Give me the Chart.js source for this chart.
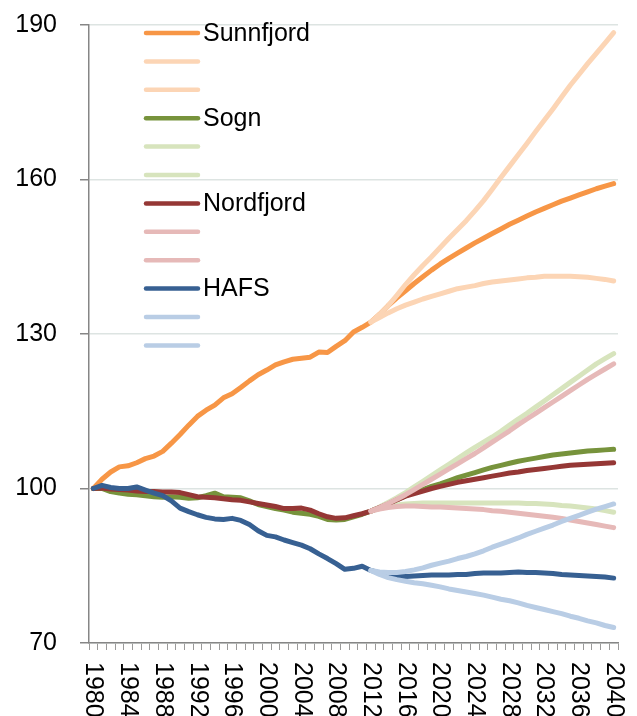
<!DOCTYPE html>
<html>
<head>
<meta charset="utf-8">
<script src="https://cdn.jsdelivr.net/npm/chart.js@4/dist/chart.umd.min.js"></script>
<style>
  body { margin: 0; background: #fff; }
  #wrap { width: 637px; height: 716px; }
</style>
</head>
<body>
<div id="wrap"><canvas id="chart" width="637" height="716"></canvas></div>
<script>
const years = [1980,1981,1982,1983,1984,1985,1986,1987,1988,1989,1990,1991,1992,1993,1994,1995,1996,1997,1998,1999,
  2000,2001,2002,2003,2004,2005,2006,2007,2008,2009,2010,2011,2012,2013,2014,2015,2016,2017,2018,2019,
  2020,2021,2022,2023,2024,2025,2026,2027,2028,2029,2030,2031,2032,2033,2034,2035,2036,2037,2038,2039,2040];

// main series 1980-2040 (history + main projection)
const sunnfjord = [100,101.8,103.2,104.2,104.4,105.0,105.8,106.3,107.2,108.8,110.5,112.3,114.0,115.2,116.2,117.6,118.4,119.6,120.9,122.1,
  123.0,124.0,124.6,125.1,125.3,125.5,126.5,126.4,127.6,128.7,130.4,131.3,132.3,
  133.8,135.5,137.0,138.4,139.8,141.1,142.4,143.6,144.7,145.7,146.7,147.7,148.6,149.5,150.4,151.3,152.1,152.9,153.7,154.4,155.1,155.8,156.4,157.0,157.6,158.2,158.7,159.2];
const sogn = [100,100.0,99.4,99.1,98.9,98.8,98.6,98.4,98.3,98.4,98.3,98.1,98.2,98.6,99.1,98.4,98.3,98.2,97.6,96.9,
  96.5,96.1,95.8,95.4,95.2,95.0,94.6,94.0,93.9,94.0,94.5,95.0,95.6,
  96.3,97.0,97.8,98.6,99.2,99.8,100.4,100.9,101.5,102.1,102.6,103.1,103.6,104.1,104.5,104.9,105.3,105.6,105.9,106.2,106.5,106.7,106.9,107.1,107.3,107.4,107.5,107.6];
const nordfjord = [100,100.1,99.9,99.8,99.7,99.5,99.4,99.4,99.3,99.3,99.2,98.8,98.4,98.3,98.2,98.0,97.8,97.7,97.4,97.1,
  96.8,96.5,96.1,96.1,96.2,95.8,95.1,94.5,94.2,94.3,94.7,95.1,95.6,
  96.3,97.0,97.8,98.5,99.0,99.5,100.0,100.4,100.8,101.2,101.5,101.8,102.1,102.4,102.7,103.0,103.2,103.5,103.7,103.9,104.1,104.3,104.5,104.6,104.7,104.8,104.9,105.0];
const hafs = [100,100.6,100.2,100.0,100.0,100.3,99.7,99.1,98.6,97.6,96.2,95.5,94.9,94.4,94.1,94.0,94.2,93.8,93.0,91.8,
  90.9,90.6,90.0,89.5,89.0,88.3,87.3,86.4,85.4,84.3,84.5,84.9,84.1,
  83.6,83.2,82.9,82.9,83.0,83.1,83.2,83.2,83.2,83.3,83.3,83.5,83.6,83.6,83.6,83.7,83.8,83.7,83.7,83.6,83.5,83.3,83.2,83.1,83.0,82.9,82.8,82.6];

// alternative projections 2012-2040
const sunnfjordHigh = [132.3,133.8,135.5,137.5,139.6,141.5,143.3,145.0,146.8,148.6,150.3,152.0,153.9,155.9,158.1,160.4,162.6,164.8,167.0,169.3,171.5,173.7,176.0,178.3,180.4,182.5,184.5,186.5,188.5];
const sunnfjordLow = [132.3,133.2,134.1,134.9,135.6,136.2,136.8,137.3,137.8,138.3,138.8,139.1,139.4,139.8,140.1,140.3,140.5,140.7,140.9,141.0,141.2,141.2,141.2,141.2,141.1,141.0,140.8,140.6,140.3];
const sognHigh = [95.6,96.4,97.3,98.2,99.2,100.3,101.4,102.5,103.6,104.7,105.8,106.9,108.0,109.0,110.0,111.1,112.3,113.5,114.6,115.8,117.0,118.2,119.4,120.6,121.8,123.0,124.2,125.2,126.2];
const sognLow = [95.6,96.1,96.5,96.8,97.0,97.1,97.2,97.2,97.2,97.2,97.2,97.2,97.2,97.2,97.2,97.2,97.2,97.2,97.1,97.1,97.0,96.9,96.7,96.6,96.4,96.2,96.0,95.7,95.4];
const nordfjordHigh = [95.6,96.3,97.1,97.9,98.8,99.8,100.8,101.8,102.8,103.8,104.8,105.8,106.8,107.9,109.0,110.1,111.2,112.4,113.5,114.6,115.7,116.8,117.9,119.0,120.1,121.2,122.2,123.2,124.2];
const nordfjordLow = [95.6,96.0,96.3,96.5,96.6,96.6,96.5,96.4,96.4,96.3,96.2,96.1,96.0,95.9,95.7,95.6,95.4,95.2,95.0,94.8,94.6,94.4,94.2,93.9,93.6,93.3,93.0,92.7,92.4];
const hafsHigh = [84.1,83.8,83.7,83.7,83.9,84.2,84.6,85.1,85.5,85.9,86.4,86.8,87.3,87.9,88.6,89.2,89.8,90.4,91.1,91.7,92.3,92.9,93.6,94.2,94.8,95.4,96.0,96.5,97.0];
const hafsLow = [84.1,83.3,82.7,82.3,82.0,81.7,81.5,81.2,80.9,80.5,80.2,79.9,79.6,79.3,78.9,78.5,78.2,77.8,77.3,76.9,76.5,76.1,75.7,75.2,74.8,74.3,73.9,73.4,73.0];

const yTicks = [70, 100, 130, 160, 190];

const FONT = "'Liberation Sans', Arial, sans-serif";
const AXIS = '#868686';

// pad projections (start 2012) with nulls for the history years
const fromStart = arr => Array(years.length - arr.length).fill(null).concat(arr);

function line(label, data, color) {
  return {
    label: label,
    data: data,
    borderColor: color,
    backgroundColor: color,
    borderWidth: 5,
    pointRadius: 0,
    tension: 0,
    borderCapStyle: 'round',
    borderJoinStyle: 'round',
    spanGaps: false
  };
}

const datasets = [
  line('Sunnfjord', sunnfjord, '#F79646'),
  line('', fromStart(sunnfjordHigh), '#FCD5B5'),
  line('', fromStart(sunnfjordLow), '#FCD5B5'),
  line('Sogn', sogn, '#77933C'),
  line('', fromStart(sognHigh), '#D7E4BD'),
  line('', fromStart(sognLow), '#D7E4BD'),
  line('Nordfjord', nordfjord, '#953735'),
  line('', fromStart(nordfjordHigh), '#E6B9B8'),
  line('', fromStart(nordfjordLow), '#E6B9B8'),
  line('HAFS', hafs, '#376092'),
  line('', fromStart(hafsHigh), '#B9CDE5'),
  line('', fromStart(hafsLow), '#B9CDE5')
];
// later series drawn on top, like the original
datasets.forEach((d, i) => d.order = datasets.length - i);

const legendInside = {
  id: 'legendInside',
  afterDraw(chart) {
    const ctx = chart.ctx;
    ctx.save();
    ctx.font = '25px ' + FONT;
    ctx.textBaseline = 'middle';
    ctx.textAlign = 'left';
    chart.data.datasets.forEach((d, i) => {
      const y = 33 + i * 28.4;
      ctx.strokeStyle = d.borderColor;
      ctx.lineWidth = 4.5;
      ctx.lineCap = 'round';
      ctx.beginPath();
      ctx.moveTo(146, y);
      ctx.lineTo(198, y);
      ctx.stroke();
      if (d.label) {
        ctx.fillStyle = '#000';
        ctx.fillText(d.label, 203, y + 1);
      }
    });
    ctx.restore();
  }
};

const rotatedYears = {
  id: 'rotatedYears',
  afterDraw(chart) {
    const ctx = chart.ctx;
    const xs = chart.scales.x;
    ctx.save();
    ctx.font = '25px ' + FONT;
    ctx.fillStyle = '#000';
    ctx.textAlign = 'left';
    ctx.textBaseline = 'middle';
    years.forEach((yr, i) => {
      if (yr % 4 !== 0) return;
      const x = xs.getPixelForValue(i);
      ctx.save();
      ctx.translate(x, xs.top + 19);
      ctx.rotate(Math.PI / 2);
      ctx.fillText(String(yr), 0, 0);
      ctx.restore();
    });
    ctx.restore();
  }
};

new Chart(document.getElementById('chart'), {
  type: 'line',
  data: { labels: years.map(String), datasets: datasets },
  options: {
    responsive: false,
    animation: false,
    layout: { padding: { top: 25, right: 19, left: 0, bottom: 0 } },
    plugins: { legend: { display: false }, tooltip: { enabled: false } },
    scales: {
      x: {
        offset: true,
        grid: { offset: true, drawOnChartArea: false, drawTicks: true, tickLength: 7, color: '#9a9a9a', lineWidth: 1 },
        border: { color: AXIS, width: 1.5 },
        ticks: { display: false, autoSkip: false },
        afterFit(scale) { scale.height = 73; scale.paddingLeft = 0; scale.paddingRight = 0; }
      },
      y: {
        min: 70,
        max: 190,
        afterBuildTicks(scale) { scale.ticks = yTicks.map(v => ({ value: v })); },
        grid: { color: '#dde4e2', lineWidth: 1.5, tickLength: 9, tickColor: AXIS },
        border: { color: AXIS, width: 1.5 },
        ticks: { color: '#000', font: { family: FONT, size: 25 }, padding: 23 },
        afterFit(scale) { scale.width = 89; scale.paddingTop = 0; scale.paddingBottom = 0; }
      }
    }
  },
  plugins: [legendInside, rotatedYears]
});
</script>
</body>
</html>
